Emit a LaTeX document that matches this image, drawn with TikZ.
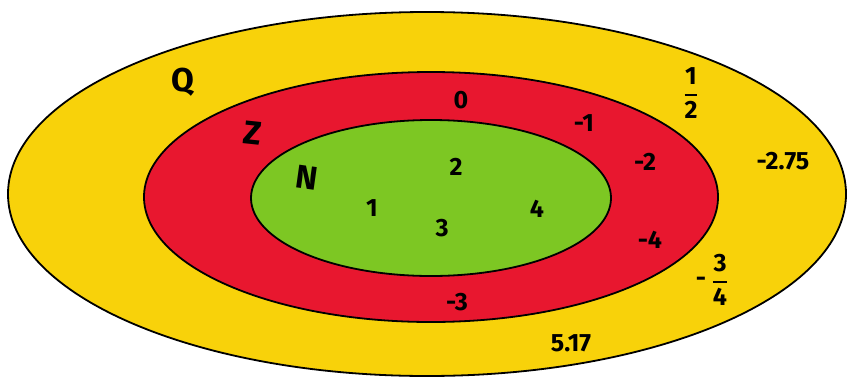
\documentclass[tikz,border=0pt]{standalone}
\usepackage{amsmath}
\usepackage{fontspec}
\setmainfont{Fira Sans}
\definecolor{qyellow}{HTML}{F8D20A}
\definecolor{zred}{HTML}{E8172F}
\definecolor{ngreen}{HTML}{7DC723}
\newcommand{\myfrac}[2]{$\genfrac{}{}{1.8pt}{0}{\mbox{#1}}{\mbox{#2}}$}
\begin{document}
\begin{tikzpicture}[x=1pt,y=-1pt,
  ring/.style={draw=black,line width=1.8pt},
  num/.style={font=\fontsize{25}{26}\selectfont\bfseries,inner sep=0pt},
  frac/.style={font=\fontsize{25}{26}\selectfont\bfseries,inner sep=0pt},
  setname/.style={font=\fontsize{33}{34}\selectfont\bfseries,inner sep=0pt}]
\useasboundingbox (0,0) rectangle (848,378);
\fill[white] (0,0) rectangle (848,378);
\path[ring,fill=qyellow] (427,194) ellipse [x radius=419, y radius=182];
\path[ring,fill=zred] (431,197) ellipse [x radius=287, y radius=125];
\path[ring,fill=ngreen] (431,198) ellipse [x radius=180, y radius=78];
\node[setname] (Q) at (183,82) {Q};
\node[setname,rotate=-6] (Z) at (253,133) {Z};
\node[setname,rotate=-8] (N) at (307,178) {N};
\node[num] (n1) at (372,208) {1};
\node[num] (n2) at (456,167) {2};
\node[num] (n3) at (442,228) {3};
\node[num] (n4) at (537,209) {4};
\node[num] (z0) at (461,100) {0};
\node[num] (zm1) at (584,123) {-1};
\node[num] (zm2) at (645,162) {-2};
\node[num] (zm4) at (650,240) {-4};
\node[num] (zm3) at (457,302) {-3};
\node[frac] (qhalf) at (691,93) {\myfrac{1}{2}};
\node[num] (q275) at (783,161) {-2.75};
\node[num] (qm) at (701,282) {-};
\node[frac] (q34) at (720,280) {\myfrac{3}{4}};
\node[num] (q517) at (571,343) {5.17};
\end{tikzpicture}
\end{document}
